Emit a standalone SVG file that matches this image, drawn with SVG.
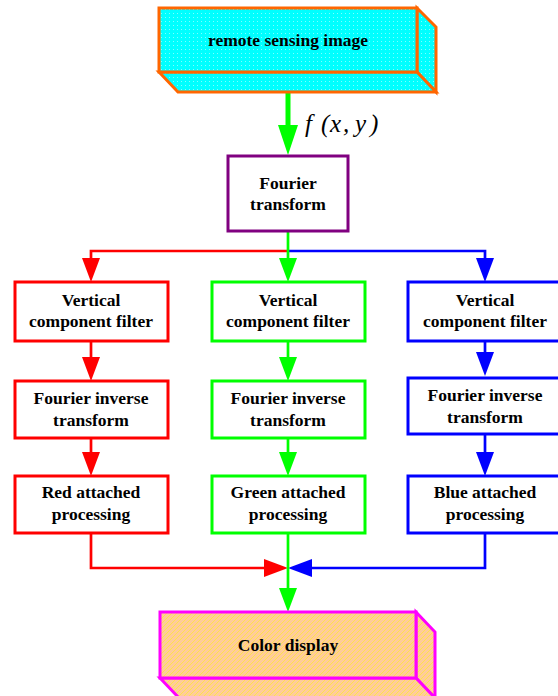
<svg xmlns="http://www.w3.org/2000/svg" width="558" height="696" viewBox="0 0 558 696">
<style>
.t{font-family:"Liberation Serif","Times New Roman",serif;font-weight:bold;font-size:17.5px;text-anchor:middle;fill:#000}
.m{font-family:"Liberation Serif","Times New Roman",serif;font-style:italic;font-size:25px;fill:#000}
.box{fill:#fff;stroke-width:3}
.r{stroke:#FF0000}.g{stroke:#00FF00}.b{stroke:#0000FF}
.ln{fill:none;stroke-width:2.7}
</style>
<defs>
<pattern id="dots" width="4" height="4" patternUnits="userSpaceOnUse">
<rect width="4" height="4" fill="#00FFFF"/>
<rect x="1" y="1" width="1" height="1" fill="#7FFFFF"/>
</pattern>
<pattern id="hatch" width="5" height="5" patternUnits="userSpaceOnUse">
<rect width="5" height="5" fill="#FFCC99"/>
<path d="M-1,6 L6,-1 M-1,1 L1,-1 M4,6 L6,4" stroke="#FFE14D" stroke-width="1"/>
</pattern>
<marker id="ar" markerUnits="userSpaceOnUse" markerWidth="24" markerHeight="18" viewBox="0 0 24 18" refX="0" refY="9" orient="auto"><path d="M0,0 L24,9 L0,18 Z" fill="#FF0000"/></marker>
<marker id="ag" markerUnits="userSpaceOnUse" markerWidth="24" markerHeight="18" viewBox="0 0 24 18" refX="0" refY="9" orient="auto"><path d="M0,0 L24,9 L0,18 Z" fill="#00FF00"/></marker>
<marker id="ab" markerUnits="userSpaceOnUse" markerWidth="24" markerHeight="18" viewBox="0 0 24 18" refX="0" refY="9" orient="auto"><path d="M0,0 L24,9 L0,18 Z" fill="#0000FF"/></marker>
<marker id="agb" markerUnits="userSpaceOnUse" markerWidth="30" markerHeight="20" viewBox="0 0 30 20" refX="0" refY="10" orient="auto"><path d="M0,0 L30,10 L0,20 Z" fill="#00FF00"/></marker>
</defs>

<g id="connectors">
<path d="M288,72 V125" fill="none" stroke="#00FF00" stroke-width="5" marker-end="url(#agb)"/>
<path class="ln r" d="M288,251 H91 V258" marker-end="url(#ar)"/>
<path class="ln b" d="M288,251 H485 V258" marker-end="url(#ab)"/>
<path class="ln g" d="M288,231 V258" marker-end="url(#ag)"/>
<path class="ln r" d="M91,341 V357" marker-end="url(#ar)"/>
<path class="ln g" d="M288,341 V357" marker-end="url(#ag)"/>
<path class="ln b" d="M485,341 V352" marker-end="url(#ab)"/>
<path class="ln r" d="M91,438 V452" marker-end="url(#ar)"/>
<path class="ln g" d="M288,438 V452" marker-end="url(#ag)"/>
<path class="ln b" d="M485,434 V452" marker-end="url(#ab)"/>
<path class="ln r" d="M91,533 V568 H264" marker-end="url(#ar)"/>
<path class="ln b" d="M485,533 V568 H312" marker-end="url(#ab)"/>
<path class="ln g" d="M288,533 V588" marker-end="url(#ag)"/>
<text class="m" y="132"><tspan x="305">f</tspan><tspan x="321">(</tspan><tspan x="330">x</tspan><tspan x="343">,</tspan><tspan x="355">y</tspan><tspan x="370">)</tspan></text>
</g>

<g id="remote-sensing-image" stroke="#FF6600" stroke-width="3" stroke-linejoin="miter" fill="url(#dots)">
<polygon points="417,8 436,27 436,92 417,72"/>
<polygon points="159,72 178,92 436,92 417,72"/>
<rect x="159" y="8" width="258" height="64"/>
<text class="t" x="288" y="46" stroke="none">remote sensing image</text>
</g>

<g id="fourier-transform">
<rect x="228" y="156" width="120" height="75" fill="#fff" stroke="#800080" stroke-width="3"/>
<text class="t" x="288" y="189">Fourier</text>
<text class="t" x="288" y="210">transform</text>
</g>

<g id="red-filter"><rect class="box r" x="15" y="282" width="153" height="59"/>
<text class="t" x="91" y="306">Vertical</text><text class="t" x="91" y="327">component filter</text></g>
<g id="green-filter"><rect class="box g" x="212" y="282" width="153" height="59"/>
<text class="t" x="288" y="306">Vertical</text><text class="t" x="288" y="327">component filter</text></g>
<g id="blue-filter"><rect class="box b" x="408" y="282" width="153" height="59"/>
<text class="t" x="485" y="306">Vertical</text><text class="t" x="485" y="327">component filter</text></g>

<g id="red-inverse"><rect class="box r" x="15" y="381" width="153" height="57"/>
<text class="t" x="91" y="404">Fourier inverse</text><text class="t" x="91" y="426">transform</text></g>
<g id="green-inverse"><rect class="box g" x="212" y="381" width="153" height="57"/>
<text class="t" x="288" y="404">Fourier inverse</text><text class="t" x="288" y="426">transform</text></g>
<g id="blue-inverse"><rect class="box b" x="408" y="378" width="153" height="56"/>
<text class="t" x="485" y="401">Fourier inverse</text><text class="t" x="485" y="423">transform</text></g>

<g id="red-processing"><rect class="box r" x="15" y="476" width="153" height="57"/>
<text class="t" x="91" y="498">Red attached</text><text class="t" x="91" y="520">processing</text></g>
<g id="green-processing"><rect class="box g" x="212" y="476" width="153" height="57"/>
<text class="t" x="288" y="498">Green attached</text><text class="t" x="288" y="520">processing</text></g>
<g id="blue-processing"><rect class="box b" x="408" y="476" width="153" height="57"/>
<text class="t" x="485" y="498">Blue attached</text><text class="t" x="485" y="520">processing</text></g>

<g id="color-display" stroke="#FF00FF" stroke-width="3" fill="url(#hatch)">
<polygon points="416,612 435,632 435,698 416,678"/>
<polygon points="160,678 179,698 435,698 416,678"/>
<rect x="160" y="612" width="256" height="66"/>
<text class="t" x="288" y="651" stroke="none" fill="#000">Color display</text>
</g>
</svg>
